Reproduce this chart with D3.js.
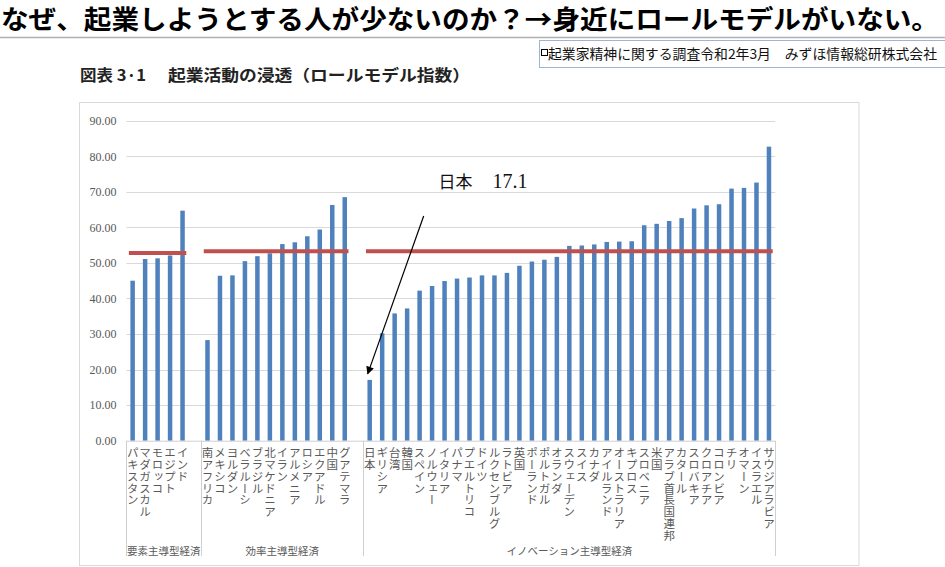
<!DOCTYPE html>
<html><head><meta charset="utf-8">
<script src="https://cdn.jsdelivr.net/npm/d3@7"></script>
<style>
html,body{margin:0;padding:0;background:#fff;}
svg{display:block;}
</style></head>
<body>
<svg id="c" width="945" height="567"></svg>
<script>
// ---- data ----
const titleText = "なぜ、起業しようとする人が少ないのか？→身近にロールモデルがいない。";
const sourceText = "起業家精神に関する調査令和2年3月　みずほ情報総研株式会社";
const chartTitleA = "図表 3·1";
const chartTitleB = "起業活動の浸透（ロールモデル指数）";

const factorCats = ["パキスタン","マダガスカル","モロッコ","エジプト","インド"];
const factorVals = [45.0, 51.1, 51.3, 52.1, 64.7];

const efficiencyCats = ["南アフリカ","メキシコ","ヨルダン","ベラルーシ","ブラジル","北マケドニア","イラン","アルメニア","ロシア","エクアドル","中国","グアテマラ"];
const efficiencyVals = [28.3, 46.4, 46.5, 50.5, 51.9, 52.7, 55.3, 55.8, 57.5, 59.4, 66.3, 68.5];

const innovationCats = ["日本","ギリシア","台湾","韓国","スペイン","ノルウェー","イタリア","パナマ","プエルトリコ","ドイツ","ルクセンブルグ","ラトビア","英国","ポーランド","ポルトガル","オランダ","スウェーデン","スイス","カナダ","アイルランド","オーストラリア","キプロス","スロベニア","米国","アラブ首長国連邦","カタール","スロバキア","クロアチア","コロンビア","チリ","オマーン","イスラエル","サウジアラビア"];
const innovationVals = [17.1, 30.2, 35.8, 37.2, 42.2, 43.5, 44.9, 45.6, 45.9, 46.5, 46.5, 47.2, 49.2, 50.4, 50.9, 51.7, 54.8, 54.9, 55.2, 55.9, 56.0, 56.1, 60.6, 61.0, 61.8, 62.6, 65.3, 66.2, 66.5, 70.9, 71.1, 72.6, 82.7];

const groupNames = ["要素主導型経済","効率主導型経済","イノベーション主導型経済"];
const groupAverages = [52.8, 53.3, 53.3];
const yTicks = [0, 10, 20, 30, 40, 50, 60, 70, 80, 90];
const annotationText = ["日本", "17.1"];

// ---- build ----
const groups = [
  {name: groupNames[0], cats: factorCats, vals: factorVals, avg: groupAverages[0]},
  {name: groupNames[1], cats: efficiencyCats, vals: efficiencyVals, avg: groupAverages[1]},
  {name: groupNames[2], cats: innovationCats, vals: innovationVals, avg: groupAverages[2]}
];
const domain = [];
const bars = [];
groups.forEach((g, gi) => {
  g.cats.forEach((c, i) => { domain.push(c); bars.push({cat: c, val: g.vals[i], group: gi}); });
  if (gi < groups.length - 1) domain.push("__gap" + gi);
});

const svg = d3.select("#c");
const FONT = "'Noto Sans CJK JP','Noto Sans',sans-serif";

// header
svg.append("text").attr("x", 1).attr("y", 29)
  .attr("font-family", FONT).attr("font-weight", 700).attr("font-size", 26)
  .attr("textLength", 938).attr("lengthAdjust", "spacingAndGlyphs")
  .attr("fill", "#000").text(titleText);
svg.append("line").attr("x1", 0).attr("x2", 945).attr("y1", 37.5).attr("y2", 37.5)
  .attr("stroke", "#b0b0b0").attr("stroke-width", 1.5);
svg.append("rect").attr("x", 539.5).attr("y", 40.5).attr("width", 410).attr("height", 27)
  .attr("fill", "#fff").attr("stroke", "#9fb4d4").attr("stroke-width", 1);
svg.append("rect").attr("x", 541.5).attr("y", 49.5).attr("width", 6).attr("height", 6)
  .attr("fill", "none").attr("stroke", "#000").attr("stroke-width", 1);
svg.append("text").attr("x", 548).attr("y", 58.5)
  .attr("font-family", FONT).attr("font-size", 13.5)
  .attr("textLength", 389).attr("lengthAdjust", "spacingAndGlyphs")
  .attr("fill", "#111").text(sourceText);

// chart frame
svg.append("rect").attr("x", 79.5).attr("y", 102.5).attr("width", 779.5).attr("height", 463)
  .attr("fill", "#fff").attr("stroke", "#d9d9d9");

svg.append("text").attr("x", 80).attr("y", 81)
  .attr("font-family", FONT).attr("font-weight", 700).attr("font-size", 16)
  .attr("textLength", 66).attr("lengthAdjust", "spacingAndGlyphs")
  .attr("fill", "#222").text(chartTitleA);
svg.append("text").attr("x", 168).attr("y", 81)
  .attr("font-family", FONT).attr("font-weight", 700).attr("font-size", 16)
  .attr("textLength", 302).attr("lengthAdjust", "spacingAndGlyphs")
  .attr("fill", "#222").text(chartTitleB);

// scales
const left = 126.4, right = 775.2, y0 = 440.7, yTop = 120.7;
const x = d3.scaleBand().domain(domain).range([left, right]).paddingInner(0.64).paddingOuter(0.32);
const y = d3.scaleLinear().domain([0, 90]).range([y0, yTop]);
const cx = c => x(c) + x.bandwidth() / 2;
const step = x.step();

// gridlines
svg.append("g").selectAll("line").data(yTicks.filter(t => t > 0)).join("line")
  .attr("x1", left).attr("x2", right)
  .attr("y1", d => Math.round(y(d)) + 0.5).attr("y2", d => Math.round(y(d)) + 0.5)
  .attr("stroke", "#d9d9d9").attr("stroke-width", 1);

// y axis labels
const yAxis = d3.axisLeft(y).tickValues(yTicks).tickFormat(d3.format(".2f")).tickSize(0).tickPadding(10);
const ya = svg.append("g").attr("transform", `translate(${left},0)`).call(yAxis);
ya.select(".domain").remove();
ya.selectAll("text").attr("font-family", "'Liberation Serif','DejaVu Serif',serif")
  .attr("font-size", 12).attr("fill", "#595959");

// bars
svg.append("g").selectAll("rect").data(bars).join("rect")
  .attr("x", d => x(d.cat)).attr("width", x.bandwidth())
  .attr("y", d => y(d.val)).attr("height", d => y0 - y(d.val))
  .attr("fill", "#4f81bd");

// average lines
svg.append("g").selectAll("line").data(groups).join("line")
  .attr("x1", g => x(g.cats[0]) - 1.5)
  .attr("x2", g => x(g.cats[g.cats.length - 1]) + x.bandwidth() + 1.5)
  .attr("y1", g => y(g.avg)).attr("y2", g => y(g.avg))
  .attr("stroke", "#c0504d").attr("stroke-width", 4);

// category axis
const axisG = svg.append("g");
axisG.append("line").attr("x1", left).attr("x2", right).attr("y1", y0 + 0.5).attr("y2", y0 + 0.5)
  .attr("stroke", "#d0d0d0");
const bounds = [left];
groups.forEach((g, gi) => {
  const last = gi < groups.length - 1 ? "__gap" + gi : g.cats[g.cats.length - 1];
  bounds.push(x(last) + x.bandwidth() / 2 + step / 2);
});
axisG.selectAll("line.sep").data(bounds).join("line").attr("class", "sep")
  .attr("x1", d => Math.round(d) + 0.5).attr("x2", d => Math.round(d) + 0.5)
  .attr("y1", y0).attr("y2", 556)
  .attr("stroke", "#d0d0d0");

// category labels (vertical)
axisG.selectAll("text.cat").data(bars).join("text").attr("class", "cat")
  .attr("x", d => cx(d.cat)).attr("y", 447)
  .attr("font-family", FONT).attr("font-size", 11.5).attr("fill", "#595959")
  .style("writing-mode", "vertical-rl").style("letter-spacing", "0.3px")
  .text(d => d.cat);

// group labels
axisG.selectAll("text.grp").data(groups).join("text").attr("class", "grp")
  .attr("x", (g, i) => (bounds[i] + bounds[i + 1]) / 2).attr("y", 555)
  .attr("text-anchor", "middle")
  .attr("font-family", FONT).attr("font-size", 10.5).attr("fill", "#595959")
  .text(g => g.name);

// annotation
const defs = svg.append("defs");
defs.append("marker").attr("id", "ah").attr("viewBox", "0 0 10 10").attr("refX", 9).attr("refY", 5)
  .attr("markerWidth", 9).attr("markerHeight", 8).attr("markerUnits", "userSpaceOnUse")
  .attr("orient", "auto")
  .append("path").attr("d", "M0,0 L10,5 L0,10 Z").attr("fill", "#000");
svg.append("line")
  .attr("x1", cx("ノルウェー") - 8.4).attr("y1", y(63.2))
  .attr("x2", cx("日本") - 2).attr("y2", y(18.8))
  .attr("stroke", "#000").attr("stroke-width", 1.2).attr("marker-end", "url(#ah)");
const ann = svg.append("text").attr("x", cx("イタリア") - 6).attr("y", y(73) + 6.5)
  .attr("fill", "#111");
ann.append("tspan").attr("font-family", FONT).attr("font-size", 17).text(annotationText[0]);
ann.append("tspan").attr("dx", 20).attr("font-family", "'Liberation Serif',serif")
  .attr("font-size", 20).text(annotationText[1]);
</script>
</body></html>
